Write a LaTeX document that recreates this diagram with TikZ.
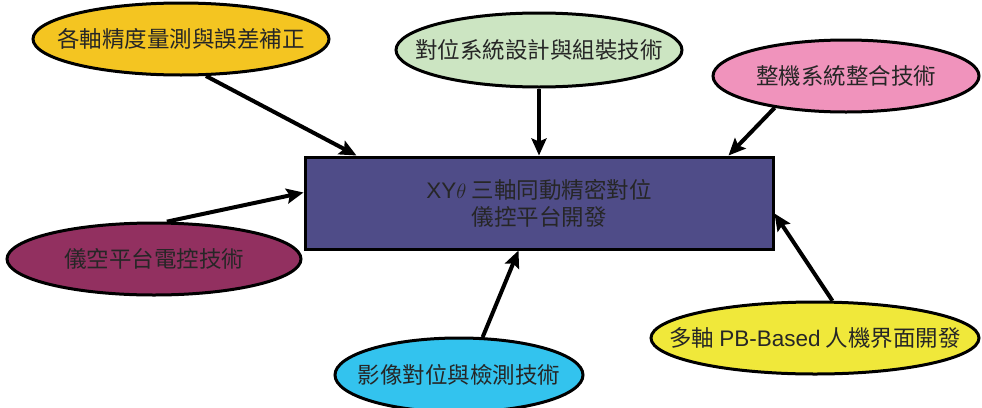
\documentclass[tikz,border=0pt]{standalone}
\usepackage{fontspec}
\setmainfont{Noto Sans CJK TC}
\newfontfamily\latfont{Liberation Sans}
\usetikzlibrary{shapes.geometric,arrows.meta,calc}
\definecolor{cOrange}{HTML}{F4C521}
\definecolor{cGreen}{HTML}{CCE5C2}
\definecolor{cPink}{HTML}{F093BC}
\definecolor{cMagenta}{HTML}{923060}
\definecolor{cCyan}{HTML}{33C3EE}
\definecolor{cYellow}{HTML}{F0E83A}
\definecolor{cRect}{HTML}{4F4C88}
\definecolor{cText}{HTML}{262626}
\tikzset{
  bubble/.style={ellipse, draw=black, line width=3pt, inner sep=0pt,
    label={[text=cText, font=\fontsize{22.5}{27}\selectfont, inner sep=0pt]center:#1}},
  mainbox/.style={rectangle, draw=black, line width=3pt, fill=cRect, text=cText,
    minimum width=468pt, minimum height=92pt, align=center,
    font=\fontsize{22.5}{27}\selectfont},
  link/.style={draw=black, line width=4pt, -{Stealth[length=17pt,width=15pt,inset=3pt]}}
}
\begin{document}
\begin{tikzpicture}[x=1pt,y=-1pt]
\useasboundingbox (0,0) rectangle (982,407);
\node[mainbox] (r) at (539,203) {{\latfont XY}$\theta$ 三軸同動精密對位\\儀控平台開發};
\node[bubble={各軸精度量測與誤差補正}, fill=cOrange, minimum width=296pt, minimum height=72pt] (e1) at (181,39) {};
\node[bubble={對位系統設計與組裝技術}, fill=cGreen, minimum width=286pt, minimum height=74pt] (e2) at (539,50) {};
\node[bubble={整機系統整合技術}, fill=cPink, minimum width=266pt, minimum height=72pt] (e3) at (846,76) {};
\node[bubble={儀空平台電控技術}, fill=cMagenta, minimum width=294pt, minimum height=72pt] (e4) at (154,259) {};
\node[bubble={影像對位與檢測技術}, fill=cCyan, minimum width=248pt, minimum height=74pt] (e5) at (459,375) {};
\node[bubble={多軸 {\latfont PB-Based} 人機界面開發}, fill=cYellow, minimum width=328pt, minimum height=72pt] (e6) at (815,338) {};
\coordinate (t1) at ($(r.north west)+(53,0)$);
\coordinate (t2) at (r.north);
\coordinate (t3) at ($(r.north east)+(-46,0)$);
\coordinate (t4) at ($(r.north west)+(0,37)$);
\coordinate (t5) at ($(r.south west)+(215,0)$);
\coordinate (t6) at ($(r.north east)+(0,58)$);
\draw[link] (e1.-56) -- (t1);
\draw[link] (e2.south) -- (t2);
\draw[link] (e3.204) -- (t3);
\draw[link] (e4.71) -- (t4);
\draw[link] (e5.58) -- (t5);
\draw[link] (e6.65) -- (t6);
\end{tikzpicture}
\end{document}
